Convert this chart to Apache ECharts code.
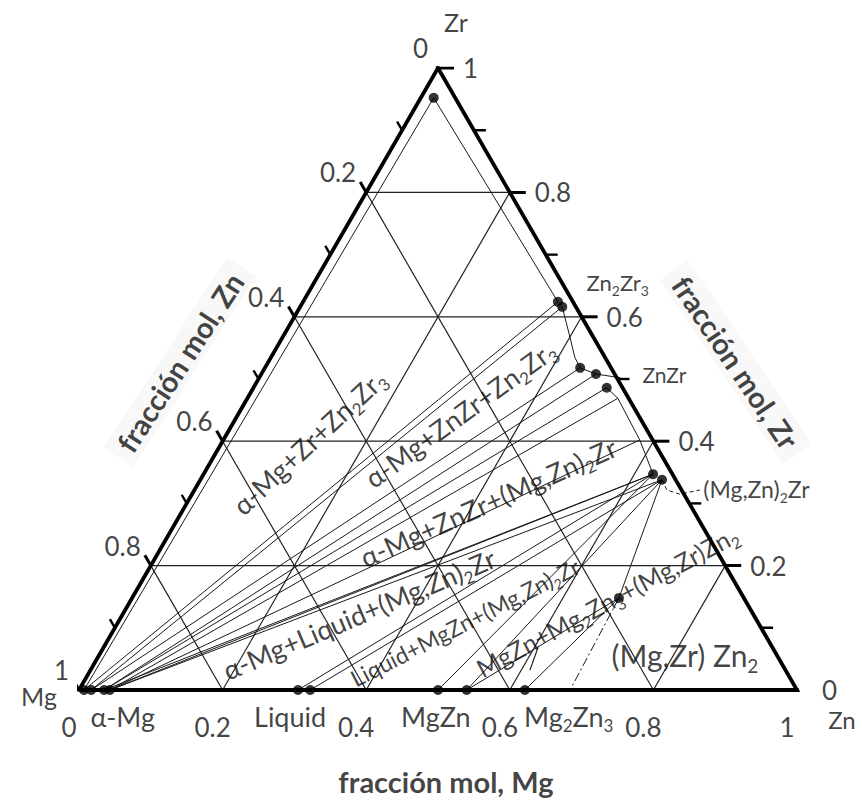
<!DOCTYPE html>
<html>
<head>
<meta charset="utf-8">
<title>Sección isotérmica Mg–Zn–Zr</title>
<script src="https://cdn.jsdelivr.net/npm/echarts@6/dist/echarts.min.js"></script>
<style>
  html, body { margin: 0; padding: 0; background: #ffffff; }
  #chart { width: 862px; height: 801px; }
</style>
</head>
<body>
<div id="chart"></div>
<script>
// Isothermal section of the Mg–Zn–Zr system.
// Every composition is written as [Zn, Zr] mole fraction; Mg is the remainder.
const S = Math.sqrt(3) / 2;

const tickValues = [0, 0.2, 0.4, 0.6, 0.8, 1];
const minorTickValues = [0.1, 0.3, 0.5, 0.7, 0.9];
const gridLevels = [0.2, 0.4, 0.6, 0.8];
const bottomTickLabels = ['0', '0.2', '0.4', '0.6', '0.8', '1'];   // Mg corner -> Zn corner
const leftTickLabels = ['0', '0.2', '0.4', '0.6', '0.8', '1'];     // Zr corner -> Mg corner
const rightTickLabels = ['1', '0.8', '0.6', '0.4', '0.2', '0'];    // Zr corner -> Zn corner

// Phase compositions
const alphaMg = [[0.007, 0], [0.017, 0], [0.035, 0], [0.043, 0]];
const liquid = [[0.305, 0], [0.322, 0]];
const mgZn = [[0.500, 0], [0.540, 0]];
const mg2Zn3 = [[0.621, 0]];
const zrPhase = [[0.018, 0.952]];
const zn2Zr3 = [[0.355, 0.624], [0.365, 0.616]];
const znZr = [[0.439, 0.518], [0.466, 0.508], [0.492, 0.486]];
const mgZn2Zr = [[0.626, 0.347], [0.643, 0.338]];
const mgZrZn2 = [[0.678, 0.148]];

// Boundary of the ZnZr field towards (Mg,Zn)2Zr
const znZrLowerEdge = [znZr[2], [0.516, 0.469], [0.580, 0.402], mgZn2Zr[0]];
// Boundary between Zn2Zr3 and ZnZr
const zn2Zr3Edge = [zn2Zr3[1], [0.400, 0.5675], [0.423, 0.535], znZr[0]];
// ZnZr homogeneity range reaching the Zn–Zr side
const znZrSideEdge = [znZr[0], znZr[1], [0.503, 0.502]];
// Leader from the (Mg,Zn)2Zr range to its name
const mgZn2ZrLeader = [mgZn2Zr[1], [0.658, 0.3215], [0.679, 0.315], [0.704, 0.3215]];
// Dash-dot line below the (Mg,Zr)Zn2 point
const dashDotLine = [mgZrZn2[0], [0.684, 0]];
// Arrow into the MgZn+Mg2Zn3+(Mg,Zr)Zn2 triangle
const arrowLine = [[0.605, 0.069], [0.612, 0.032]];

// Tie lines: pairs of coexisting compositions
const tieLines = [
  [alphaMg[0], zrPhase[0]],
  [zrPhase[0], zn2Zr3[0]],
  [alphaMg[0], zn2Zr3[0]],
  [alphaMg[1], zn2Zr3[1]],
  [alphaMg[1], znZr[0]],
  [alphaMg[2], znZr[1]],
  [alphaMg[2], znZr[2]],
  [alphaMg[3], znZrLowerEdge[1]],
  [alphaMg[3], znZrLowerEdge[2]],
  [alphaMg[2], mgZn2Zr[0]],
  [alphaMg[3], mgZn2Zr[0]],
  [alphaMg[3], mgZn2Zr[1]],
  [liquid[0], mgZn2Zr[0]],
  [liquid[1], mgZn2Zr[1]],
  [mgZn[0], mgZn2Zr[0]],
  [mgZn[1], mgZn2Zr[1]],
  [mgZn[1], mgZrZn2[0]],
  [mg2Zn3[0], mgZrZn2[0]],
  [mgZn2Zr[1], mgZrZn2[0]]
];

// ---------- drawing helpers ----------
const FONT = 'Lato, "Noto Sans", sans-serif';
const INK = '#111111';
const PX = 1 / 718; // data units per screen pixel

const toXY = p => [p[0] + p[1] / 2, p[1] * S];
const path = pts => ({ coords: pts.map(toXY) });

const gridPaths = [];
gridLevels.forEach(g => {
  gridPaths.push(path([[0, g], [1 - g, g]]));       // constant Zr
  gridPaths.push(path([[g, 0], [g, 1 - g]]));       // constant Zn
  gridPaths.push(path([[1 - g, 0], [0, 1 - g]]));   // constant Mg
});

function tick(p, dir, len) {
  const a = toXY(p);
  return { coords: [a, [a[0] + dir[0] * len * PX, a[1] + dir[1] * len * PX]] };
}
const DIR_BOTTOM = [-0.5, -S], DIR_RIGHT = [1, 0], DIR_LEFT = [-0.5, S];
const majorTicks = [], minorTicks = [];
tickValues.forEach(v => {
  majorTicks.push(tick([v, 0], DIR_BOTTOM, 15));
  majorTicks.push(tick([1 - v, v], DIR_RIGHT, 16));
  majorTicks.push(tick([0, 1 - v], DIR_LEFT, 12));
});
minorTickValues.forEach(v => {
  minorTicks.push(tick([v, 0], DIR_BOTTOM, 7));
  minorTicks.push(tick([1 - v, v], DIR_RIGHT, 12));
  minorTicks.push(tick([0, 1 - v], DIR_LEFT, 10));
});

function richFor(fs) {
  const sub = Math.round(fs * 0.62);
  return { s: { fontSize: sub, lineHeight: sub, verticalAlign: 'bottom', fontFamily: FONT, color: INK } };
}
function textItem(p, text, o) {
  const fs = o.size;
  const hasSub = text.indexOf('{s|') >= 0;
  const label = {
    show: true, position: 'inside', formatter: text,
    fontFamily: FONT, fontSize: fs, fontWeight: o.bold ? 'bold' : 'normal',
    color: INK, lineHeight: Math.round(fs * (hasSub ? 1.3 : 1.0)),
    align: o.align || 'center', verticalAlign: 'middle',
    rotate: o.rotate || 0, offset: o.offset || [0, 0]
  };
  if (hasSub) label.rich = richFor(fs);
  if (o.bg) { label.backgroundColor = o.bg; label.padding = o.pad || [2, 6]; }
  return { value: toXY(p), label };
}

const texts = [];
tickValues.forEach((v, i) => {
  texts.push(textItem([v, 0], bottomTickLabels[i], { size: 26, offset: [-10, 37] }));
  texts.push(textItem([v, 1 - v], rightTickLabels[i], { size: 26, align: 'left', offset: [25, 0] }));
  texts.push(textItem([0, 1 - v], leftTickLabels[i], { size: 26, align: 'right', offset: [-10, -20] }));
});

// Corner names
texts.push(textItem([0, 1], 'Zr', { size: 25, offset: [18, -46] }));
texts.push(textItem([0, 0], 'Mg', { size: 25, offset: [-40, 6] }));
texts.push(textItem([1, 0], 'Zn', { size: 24, offset: [45, 29] }));

// Phase names along the Mg–Zn side
texts.push(textItem([0.061, 0], 'α-Mg', { size: 27, offset: [0, 26] }));
texts.push(textItem([0.294, 0], 'Liquid', { size: 27, offset: [0, 26] }));
texts.push(textItem([0.497, 0], 'MgZn', { size: 27, offset: [0, 26] }));
texts.push(textItem([0.682, 0], 'Mg{s|2}Zn{s|3}', { size: 27, offset: [0, 26] }));

// Phase names along the Zn–Zr side
texts.push(textItem([0.4, 0.6], 'Zn{s|2}Zr{s|3}', { size: 22, align: 'left', offset: [5, -34] }));
texts.push(textItem([0.5, 0.5], 'ZnZr', { size: 21, align: 'left', offset: [25, -5] }));
texts.push(textItem([0.7, 0.3], '(Mg,Zn){s|2}Zr', { size: 23, align: 'left', offset: [14, -14] }));

// Phase fields
texts.push(textItem([0.121, 0.399], 'α-Mg+Zr+Zn{s|2}Zr{s|3}', { size: 27, rotate: 43 }));
texts.push(textItem([0.309, 0.444], 'α-Mg+ZnZr+Zn{s|2}Zr{s|3}', { size: 27, rotate: 36 }));
texts.push(textItem([0.419, 0.302], 'α-Mg+ZnZr+(Mg,Zn){s|2}Zr', { size: 27, rotate: 24 }));
texts.push(textItem([0.329, 0.122], 'α-Mg+Liquid+(Mg,Zn){s|2}Zr', { size: 27, rotate: 23 }));
texts.push(textItem([0.483, 0.109], 'Liquid+MgZn+(Mg,Zn){s|2}Zr', { size: 23, rotate: 27 }));
texts.push(textItem([0.664, 0.143], 'MgZn+Mg{s|2}Zn{s|3}+(Mg,Zr)Zn{s|2}', { size: 25, rotate: 28 }));
texts.push(textItem([0.816, 0.056], '(Mg,Zr) Zn{s|2}', { size: 30 }));

// Axis titles
texts.push(textItem([0.511, 0], 'fracción mol, Mg', { size: 29, bold: true, offset: [0, 91] }));
texts.push(textItem([-0.123, 0.527], 'fracción mol, Zn', { size: 29, bold: true, rotate: 57, bg: '#f6f6f6', pad: [3, 10] }));
texts.push(textItem([0.651, 0.527], 'fracción mol, Zr', { size: 29, bold: true, rotate: -56, bg: '#f6f6f6', pad: [3, 10] }));

const dots = [].concat(alphaMg, liquid, mgZn, mg2Zn3, zrPhase, zn2Zr3, znZr, mgZn2Zr, mgZrZn2).map(toXY);

function linesSeries(data, style, extra) {
  return Object.assign({
    type: 'lines', coordinateSystem: 'cartesian2d', polyline: true, silent: true,
    lineStyle: Object.assign({ color: INK, opacity: 1, width: 1 }, style),
    data
  }, extra || {});
}

const chart = echarts.init(document.getElementById('chart'), null, { renderer: 'svg' });
chart.setOption({
  animation: false,
  backgroundColor: '#ffffff',
  grid: { left: 79, top: 68, width: 718, height: 622, containLabel: false, outerBoundsMode: 'none' },
  xAxis: { type: 'value', min: 0, max: 1, show: false },
  yAxis: { type: 'value', min: 0, max: S, show: false },
  series: [
    linesSeries(gridPaths, { width: 1.2, color: '#222222' }),
    linesSeries(tieLines.map(path), { width: 1, color: '#1a1a1a' }),
    linesSeries([path(znZrLowerEdge), path(zn2Zr3Edge), path(znZrSideEdge)], { width: 1, color: '#1a1a1a' }),
    linesSeries([path(mgZn2ZrLeader)], { width: 1, color: '#1a1a1a', type: [4, 3] }),
    linesSeries([path(dashDotLine)], { width: 1, color: '#1a1a1a', type: [9, 3, 2, 3] }),
    linesSeries([path(arrowLine)], { width: 1.2, color: '#1a1a1a' }, { symbol: ['none', 'arrow'], symbolSize: 7 }),
    linesSeries([path([[0, 0], [1, 0], [0, 1], [0, 0]])], { width: 3.8, color: '#000000', join: 'miter' }),
    linesSeries(majorTicks, { width: 3, color: '#000000' }),
    linesSeries(minorTicks, { width: 2.4, color: '#000000' }),
    {
      type: 'scatter', silent: true, symbol: 'circle', symbolSize: 10,
      itemStyle: { color: '#000000' }, data: dots, z: 5
    },
    {
      type: 'scatter', silent: true, symbol: 'circle', symbolSize: 1,
      itemStyle: { color: 'rgba(0,0,0,0)' }, data: texts, z: 6,
      emphasis: { disabled: true }
    }
  ]
});
</script>
</body>
</html>
